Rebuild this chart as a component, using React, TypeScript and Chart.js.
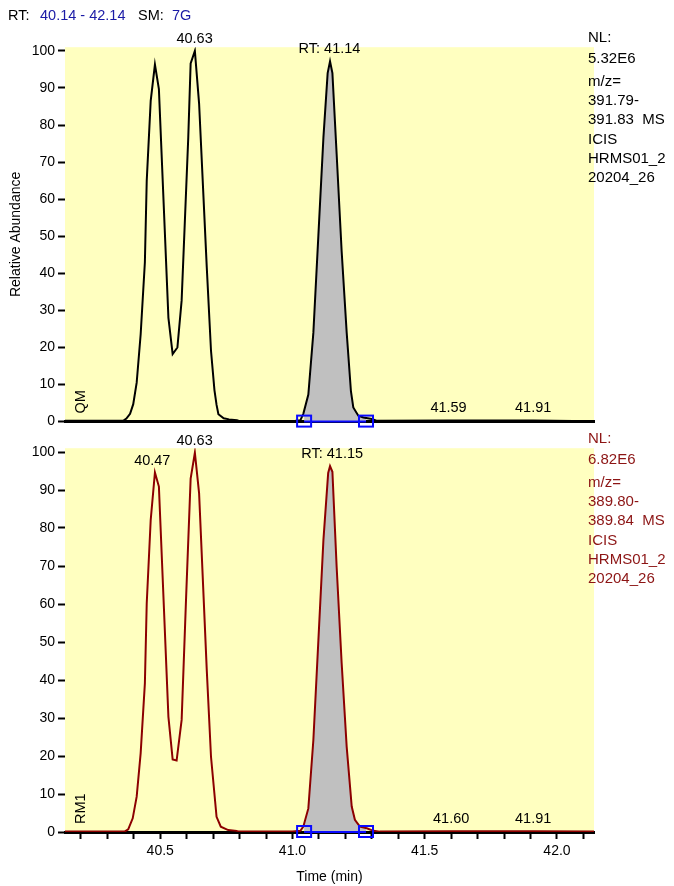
import React, { useEffect, useRef } from "react";
import { Chart, registerables } from "chart.js";

Chart.register(...registerables);

const FONT = '"Liberation Sans", Arial, Helvetica, sans-serif';

// ---------- data ----------
const rtRange = [40.14, 42.14];
const yTicks = [0, 10, 20, 30, 40, 50, 60, 70, 80, 90, 100];
const xMinorTicks = [40.2, 40.3, 40.4, 40.5, 40.6, 40.7, 40.8, 40.9, 41.0, 41.1, 41.2, 41.3, 41.4, 41.5, 41.6, 41.7, 41.8, 41.9, 42.0, 42.1];
const xLabelTicks = [40.5, 41.0, 41.5, 42.0];

// QM trace (m/z 391.79-391.83)
const qmTime = [
  40.14, 40.36, 40.372, 40.386, 40.398, 40.411, 40.426, 40.442, 40.449, 40.464,
  40.48, 40.495, 40.531, 40.547, 40.565, 40.581, 40.606, 40.615, 40.631, 40.647,
  40.676, 40.692, 40.705, 40.713, 40.72, 40.74, 40.76, 40.79, 40.8, 41.0,
  41.03, 41.041, 41.06, 41.079, 41.098, 41.117, 41.133, 41.142, 41.151, 41.167,
  41.186, 41.205, 41.221, 41.23, 41.249, 41.268, 41.3, 41.32, 41.59, 41.91, 42.14,
];
const qmAbund = [
  0.2, 0.2, 0.8, 2.1, 4.7, 10.5, 23.5, 43, 65, 86.5,
  96.3, 89.7, 28, 18.2, 20, 32.7, 76.6, 96.6, 100, 85.8,
  41.6, 19.1, 8.5, 4.5, 2.0, 0.9, 0.6, 0.4, 0.1, 0.1,
  0.4, 2.1, 7.3, 24, 50.3, 76.6, 94, 97.2, 94, 72.2,
  45.9, 24, 8.2, 3.8, 1.6, 1.1, 0.7, 0.2, 0.3, 0.3, 0.1,
];

// RM1 trace (m/z 389.80-389.84)
const rm1Time = [
  40.14, 40.365, 40.379, 40.396, 40.411, 40.426, 40.442, 40.449, 40.464, 40.48,
  40.495, 40.531, 40.547, 40.562, 40.581, 40.598, 40.615, 40.631, 40.647, 40.676,
  40.692, 40.713, 40.729, 40.757, 40.789, 40.795, 41.0, 41.03, 41.041, 41.06,
  41.079, 41.098, 41.117, 41.135, 41.142, 41.151, 41.167, 41.186, 41.205, 41.224,
  41.236, 41.255, 41.281, 41.306, 41.33, 41.6, 41.91, 42.14,
];
const rm1Abund = [
  0.1, 0.1, 0.7, 3.6, 9.3, 20.7, 39.1, 60.2, 82.1, 94.6,
  90.9, 30.3, 19.1, 18.8, 29.5, 62, 93, 99.8, 89.1, 42.6,
  19.8, 4, 1.4, 0.5, 0.3, 0.1, 0.1, 0.3, 1.4, 6.2,
  24.2, 50.5, 76.8, 94.5, 96.3, 94.8, 69.8, 44.4, 22.4, 6.7,
  3.2, 1.4, 1.0, 0.3, 0.1, 0.2, 0.2, 0.1,
];

const qmPeakWindow = [41.044, 41.278];
const rm1PeakWindow = [41.044, 41.278];

const qmPeakLabels = ["40.63", "RT: 41.14", "41.59", "41.91"];
const qmPeakTimes = [40.63, 41.14, 41.59, 41.91];
const rm1PeakLabels = ["40.47", "40.63", "RT: 41.15", "41.60", "41.91"];
const rm1PeakTimes = [40.47, 40.63, 41.15, 41.6, 41.91];

const qmInfo = ["NL:", "5.32E6", "m/z=", "391.79-", "391.83  MS", "ICIS", "HRMS01_2", "20204_26"];
const rm1Info = ["NL:", "6.82E6", "m/z=", "389.80-", "389.84  MS", "ICIS", "HRMS01_2", "20204_26"];

// ---------- helpers ----------
function valueAt(ts: number[], vs: number[], t: number) {
  for (let i = 0; i < ts.length - 1; i++) {
    if (t >= ts[i] && t <= ts[i + 1]) {
      const f = (t - ts[i]) / (ts[i + 1] - ts[i]);
      return vs[i] + f * (vs[i + 1] - vs[i]);
    }
  }
  return 0;
}
function localMax(ts: number[], vs: number[], t: number) {
  let m = valueAt(ts, vs, t);
  ts.forEach((tt, i) => {
    if (Math.abs(tt - t) <= 0.015 && vs[i] > m) m = vs[i];
  });
  return m;
}
function points(ts: number[], vs: number[]) {
  return ts.map((t, i) => ({ x: t, y: vs[i] }));
}
function fillPoints(ts: number[], vs: number[], w: number[]) {
  const pts = [{ x: w[0], y: valueAt(ts, vs, w[0]) }];
  ts.forEach((t, i) => {
    if (t > w[0] && t < w[1]) pts.push({ x: t, y: vs[i] });
  });
  pts.push({ x: w[1], y: valueAt(ts, vs, w[1]) });
  return pts;
}

const BLUE = "#0a0aff";
const YELLOW = "#ffffc0";
const HEADER_BLUE = "#1a1aa6";
const infoOffsets = [-9, 12, 34.5, 53.8, 73.1, 92.4, 111.7, 131];

type Panel = {
  key: string;
  tag: string;
  time: number[];
  abund: number[];
  color: string;
  infoColor: string;
  info: string[];
  labels: string[];
  labelTimes: number[];
  win: number[];
  top: boolean;
  height: number;
  padTop: number;
  xHeight: number;
};

function makePlugin(p: Panel) {
  return {
    id: "panel_" + p.key,
    beforeDraw(chart: any) {
      const { ctx, chartArea: a } = chart;
      ctx.save();
      ctx.fillStyle = "#ffffff";
      ctx.fillRect(0, 0, chart.width, chart.height);
      ctx.fillStyle = YELLOW;
      ctx.fillRect(a.left, a.top, a.right - a.left, a.bottom - a.top);
      ctx.restore();
    },
    afterDatasetsDraw(chart: any) {
      const { ctx, chartArea: a } = chart;
      const x = chart.scales.x;
      const y = chart.scales.y;
      ctx.save();
      const x0 = x.getPixelForValue(p.win[0]);
      const x1 = x.getPixelForValue(p.win[1]);
      const yb = y.getPixelForValue(0);
      ctx.strokeStyle = BLUE;
      ctx.lineWidth = 2;
      ctx.beginPath();
      ctx.moveTo(x0, yb);
      ctx.lineTo(x1, yb);
      ctx.stroke();
      ctx.strokeRect(x0 - 7, yb - 6, 14, 11);
      ctx.strokeRect(x1 - 7, yb - 6, 14, 11);
      ctx.fillStyle = "#000";
      ctx.font = `14.5px ${FONT}`;
      ctx.textAlign = "center";
      ctx.textBaseline = "middle";
      p.labels.forEach((txt, i) => {
        const t = p.labelTimes[i];
        const v = localMax(p.time, p.abund, t);
        ctx.fillText(txt, x.getPixelForValue(t), y.getPixelForValue(v) - 12);
      });
      ctx.translate(a.left + 16, a.bottom - 8);
      ctx.rotate(-Math.PI / 2);
      ctx.textAlign = "left";
      ctx.fillText(p.tag, 0, 0);
      ctx.restore();
    },
    afterDraw(chart: any) {
      const { ctx, chartArea: a } = chart;
      ctx.save();
      ctx.font = `15px ${FONT}`;
      ctx.textBaseline = "middle";
      ctx.textAlign = "left";
      ctx.fillStyle = p.infoColor;
      p.info.forEach((line, i) => {
        ctx.fillText(line, a.right - 6, a.top + infoOffsets[i]);
      });
      if (p.top) {
        const hy = 16;
        ctx.font = `14.5px ${FONT}`;
        ctx.fillStyle = "#000";
        ctx.fillText("RT:", 8, hy);
        ctx.fillStyle = HEADER_BLUE;
        ctx.fillText(`${rtRange[0].toFixed(2)} - ${rtRange[1].toFixed(2)}`, 40, hy);
        ctx.fillStyle = "#000";
        ctx.fillText("SM:", 138, hy);
        ctx.fillStyle = HEADER_BLUE;
        ctx.fillText("7G", 172, hy);
      }
      ctx.restore();
    },
  };
}

function makeConfig(p: Panel): any {
  const font = { size: 14, family: FONT };
  const xScale: any = p.top
    ? {
        type: "linear",
        min: rtRange[0],
        max: rtRange[1],
        afterFit: (s: any) => {
          s.height = p.xHeight;
        },
        ticks: { display: false },
        grid: { display: false },
        border: { display: true, color: "#000", width: 3 },
      }
    : {
        type: "linear",
        min: rtRange[0],
        max: rtRange[1],
        afterBuildTicks: (s: any) => {
          s.ticks = xMinorTicks.map((v) => ({ value: v }));
        },
        afterFit: (s: any) => {
          s.height = p.xHeight;
        },
        ticks: {
          autoSkip: false,
          maxRotation: 0,
          color: "#000",
          font,
          padding: 4,
          callback: (v: number) =>
            xLabelTicks.some((l) => Math.abs(l - v) < 1e-6) ? v.toFixed(1) : "",
        },
        grid: { drawOnChartArea: false, drawTicks: true, tickLength: 7, tickWidth: 2, tickColor: "#000" },
        border: { display: true, color: "#000", width: 3 },
        title: { display: true, text: "Time (min)", color: "#000", font, padding: { top: 0, bottom: 0 } },
      };
  return {
    type: "line",
    data: {
      datasets: [
        {
          data: points(p.time, p.abund),
          borderColor: p.color,
          borderWidth: 2,
          pointRadius: 0,
          tension: 0,
          fill: false,
        },
        {
          data: fillPoints(p.time, p.abund, p.win),
          borderWidth: 0,
          borderColor: "rgba(0,0,0,0)",
          backgroundColor: "#c0c0c0",
          pointRadius: 0,
          tension: 0,
          fill: "origin",
        },
      ],
    },
    options: {
      animation: false,
      responsive: false,
      devicePixelRatio: 1,
      layout: { padding: { left: 0, right: 80, top: p.padTop, bottom: 0 } },
      plugins: { legend: { display: false }, tooltip: { enabled: false } },
      scales: {
        x: xScale,
        y: {
          type: "linear",
          min: 0,
          max: 101,
          afterBuildTicks: (s: any) => {
            s.ticks = yTicks.map((v) => ({ value: v }));
          },
          afterFit: (s: any) => {
            s.width = 65;
          },
          grid: { drawOnChartArea: false, drawTicks: true, tickLength: 7, tickWidth: 2, tickColor: "#000" },
          border: { display: false },
          ticks: { color: "#000", font, padding: 3 },
          title: {
            display: p.top,
            text: "Relative Abundance",
            color: "#000",
            font,
            padding: { top: 8, bottom: 0 },
          },
        },
      },
    },
    plugins: [makePlugin(p)],
  };
}

const panels: Panel[] = [
  {
    key: "qm",
    tag: "QM",
    time: qmTime,
    abund: qmAbund,
    color: "#000000",
    infoColor: "#000000",
    info: qmInfo,
    labels: qmPeakLabels,
    labelTimes: qmPeakTimes,
    win: qmPeakWindow,
    top: true,
    height: 433,
    padTop: 47.2,
    xHeight: 2,
  },
  {
    key: "rm1",
    tag: "RM1",
    time: rm1Time,
    abund: rm1Abund,
    color: "#8c0000",
    infoColor: "#8c1414",
    info: rm1Info,
    labels: rm1PeakLabels,
    labelTimes: rm1PeakTimes,
    win: rm1PeakWindow,
    top: false,
    height: 453,
    padTop: 15.2,
    xHeight: 54,
  },
];

export default function App() {
  const topRef = useRef<HTMLCanvasElement | null>(null);
  const botRef = useRef<HTMLCanvasElement | null>(null);
  useEffect(() => {
    Chart.defaults.font.family = FONT;
    const c1 = new Chart(topRef.current as HTMLCanvasElement, makeConfig(panels[0]));
    const c2 = new Chart(botRef.current as HTMLCanvasElement, makeConfig(panels[1]));
    return () => {
      c1.destroy();
      c2.destroy();
    };
  }, []);
  return (
    <div style={{ position: "fixed", left: 0, top: 0, width: 674, height: 886, background: "#fff" }}>
      <canvas
        ref={topRef}
        width={674}
        height={panels[0].height}
        style={{ position: "absolute", left: 0, top: 0, width: 674, height: panels[0].height, display: "block" }}
      />
      <canvas
        ref={botRef}
        width={674}
        height={panels[1].height}
        style={{ position: "absolute", left: 0, top: panels[0].height, width: 674, height: panels[1].height, display: "block" }}
      />
    </div>
  );
}
